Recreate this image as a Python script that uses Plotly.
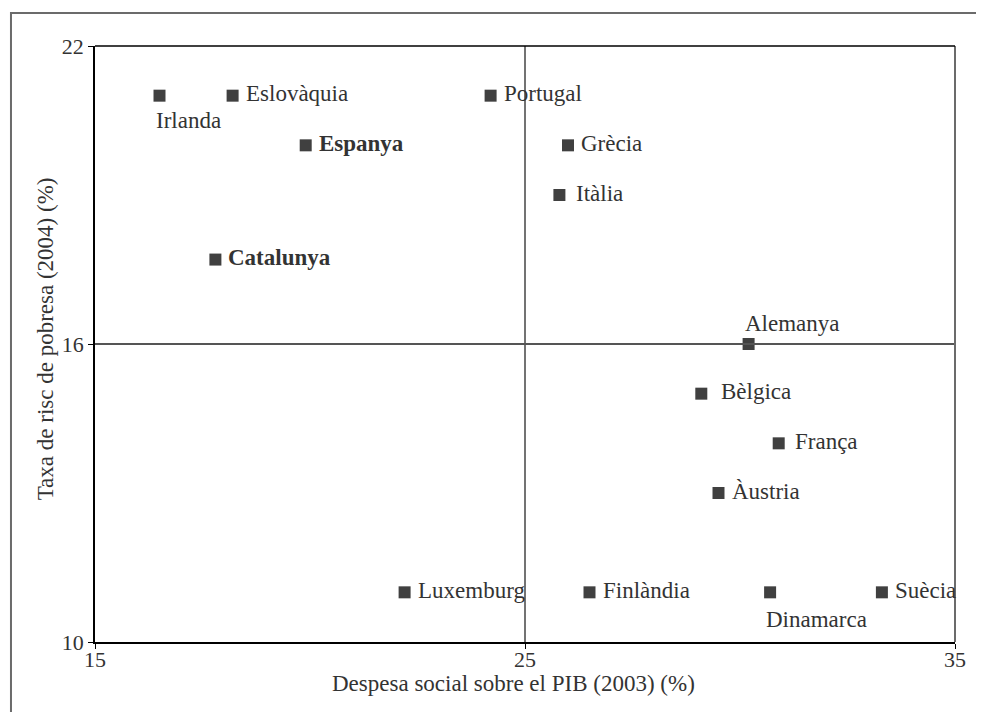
import plotly.graph_objects as go

# ---- data ----
countries = ["Irlanda", "Eslovàquia", "Portugal", "Espanya", "Grècia", "Itàlia",
             "Catalunya", "Alemanya", "Bèlgica", "França", "Àustria",
             "Luxemburg", "Finlàndia", "Dinamarca", "Suècia"]
despesa_social = [16.5, 18.2, 24.2, 19.9, 26.0, 25.8,
                  17.8, 30.2, 29.1, 30.9, 29.5,
                  22.2, 26.5, 30.7, 33.3]
risc_pobresa = [21.0, 21.0, 21.0, 20.0, 20.0, 19.0,
                17.7, 16.0, 15.0, 14.0, 13.0,
                11.0, 11.0, 11.0, 11.0]
x_ticks = [15, 25, 35]
y_ticks = [10, 16, 22]
bold_names = ["Espanya", "Catalunya"]

# ---- label placement (px offsets from marker centre) ----
label_pos = {
    "Irlanda": (-6, -25), "Dinamarca": (-6, -27), "Alemanya": (-6, 21),
    "Bèlgica": (18, 2), "Itàlia": (15, 2), "França": (14, 2),
}
default_pos = (11, 2)

FONT = "Liberation Serif"
FS = 23
TXT = "#333333"

fig = go.Figure()
fig.add_trace(go.Scatter(
    x=despesa_social, y=risc_pobresa, mode="markers",
    marker=dict(symbol="square", size=12, color="#404040", line=dict(width=0)),
    hoverinfo="text", text=countries, showlegend=False, cliponaxis=False,
))

annotations = []
for name, xv, yv in zip(countries, despesa_social, risc_pobresa):
    dx, dy = label_pos.get(name, default_pos)
    txt = f"<b>{name}</b>" if name in bold_names else name
    annotations.append(dict(
        x=xv, y=yv, xref="x", yref="y", text=txt, showarrow=False,
        xanchor="left", yanchor="middle", xshift=dx, yshift=dy,
        font=dict(family=FONT, size=FS, color=TXT),
    ))

annotations.append(dict(
    x=0.4866, y=-0.069, xref="paper", yref="paper", showarrow=False,
    text="Despesa social sobre el PIB (2003) (%)", xanchor="center", yanchor="middle",
    font=dict(family=FONT, size=FS, color=TXT)))
annotations.append(dict(
    x=-0.058, y=0.508, xref="paper", yref="paper", showarrow=False, textangle=-90,
    text="Taxa de risc de pobresa (2004) (%)", xanchor="center", yanchor="middle",
    font=dict(family=FONT, size=FS, color=TXT)))

shapes = [
    # quadrant lines
    dict(type="line", xref="x", yref="paper", x0=25, x1=25, y0=0, y1=1,
         line=dict(color="#444444", width=1.5)),
    dict(type="line", xref="paper", yref="y", x0=0, x1=1, y0=16, y1=16,
         line=dict(color="#555555", width=2)),
    # right border of plot (gray)
    dict(type="line", xref="paper", yref="paper", x0=1, x1=1, y0=0, y1=1,
         line=dict(color="#6b6b6b", width=2)),
    # top border black
    dict(type="line", xref="paper", yref="paper", x0=0, x1=1, y0=1, y1=1,
         line=dict(color="black", width=1.5)),
    # outer frame
    dict(type="rect", xref="paper", yref="paper", x0=-0.0977, x1=1.06, y0=-0.15, y1=1.0554,
         line=dict(color="#6b6b6b", width=2), fillcolor="rgba(0,0,0,0)", layer="below"),
]

fig.update_layout(
    width=984, height=712,
    margin=dict(l=87, r=37, t=38, b=78, autoexpand=False),
    paper_bgcolor="white", plot_bgcolor="white",
    font=dict(family=FONT, size=FS, color=TXT),
    annotations=annotations, shapes=shapes,
    xaxis=dict(range=[15, 35], tickvals=x_ticks, ticktext=[str(v) for v in x_ticks],
               showgrid=False, zeroline=False, showline=True, linecolor="black",
               linewidth=1.5, mirror=False, ticks="outside", ticklen=5,
               tickcolor="black", tickwidth=1, automargin=False,
               ticklabelstandoff=-8,
               tickfont=dict(family=FONT, size=22, color=TXT)),
    yaxis=dict(range=[10, 22], tickvals=y_ticks, ticktext=[str(v) for v in y_ticks],
               showgrid=False, zeroline=False, showline=True, linecolor="black",
               linewidth=1.5, mirror=False, ticks="outside", ticklen=5,
               tickcolor="black", tickwidth=1, automargin=False,
               tickfont=dict(family=FONT, size=22, color=TXT)),
)

fig.write_html("out.html")
